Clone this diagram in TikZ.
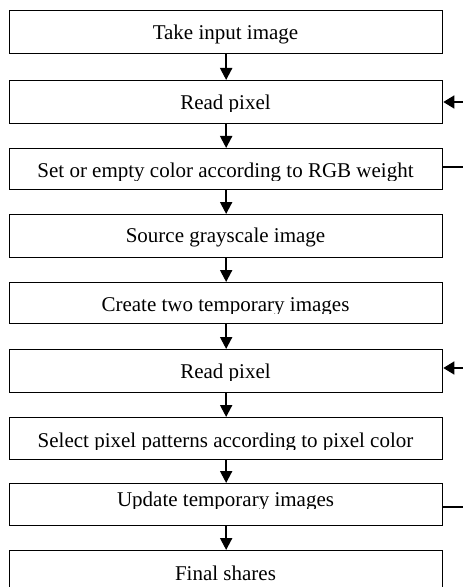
\documentclass[tikz,border=0pt]{standalone}
\usepackage{fontspec}
\setmainfont{Liberation Serif}
\usetikzlibrary{arrows.meta}
\begin{document}
\begin{tikzpicture}[x=1bp,y=-1bp,
  box/.style={draw, line width=1.3bp, rectangle, minimum width=433bp, inner sep=0pt, anchor=north west},
  lbl/.style={font=\fontsize{21bp}{25bp}\selectfont, anchor=base, inner sep=0pt},
  flow/.style={line width=2bp, -{Triangle[length=12bp,width=12bp]}},
  back/.style={line width=1.5bp, -{Triangle[length=11bp,width=13bp]}},
  tail/.style={line width=1.5bp}]
\clip (0,0) rectangle (463,587);
% boxes
\node[box, minimum height=43bp] (b1) at (9,10) {};
\node[box, minimum height=43bp] (b2) at (9,80) {};
\node[box, minimum height=41bp] (b3) at (9,148) {};
\node[box, minimum height=43bp] (b4) at (9,214) {};
\node[box, minimum height=41bp] (b5) at (9,282) {};
\node[box, minimum height=43bp] (b6) at (9,349) {};
\node[box, minimum height=42bp] (b7) at (9,417) {};
\node[box, minimum height=42bp] (b8) at (9,483) {};
\node[box, minimum height=60bp] (b9) at (9,550) {};
% labels
\node[lbl] (t1) at (225.5,40) {Take input image};
\begin{scope}
  \clip (9,80) rectangle (442,112);
  \node[lbl] (t2) at (225.5,110) {Read pixel};
\end{scope}
\begin{scope}
  \clip (9,148) rectangle (442,180);
  \node[lbl] (t3) at (225.5,177) {Set or empty color according to RGB weight};
\end{scope}
\node[lbl] (t4) at (225.5,242) {Source grayscale image};
\begin{scope}
  \clip (9,282) rectangle (442,313);
  \node[lbl] (t5) at (225.5,311) {Create two temporary images};
\end{scope}
\begin{scope}
  \clip (9,349) rectangle (442,380);
  \node[lbl] (t6) at (225.5,378) {Read pixel};
\end{scope}
\begin{scope}
  \clip (9,417) rectangle (442,449);
  \node[lbl] (t7) at (225.5,447) {Select pixel patterns according to pixel color};
\end{scope}
\begin{scope}
  \clip (9,483) rectangle (442,508);
  \node[lbl] (t8) at (225.5,506) {Update temporary images};
\end{scope}
\node[lbl] (t9) at (225.5,580) {Final shares};
% flow arrows
\draw[flow] (b1.south) -- (b2.north);
\draw[flow] (b2.south) -- (b3.north);
\draw[flow] (b3.south) -- (b4.north);
\draw[flow] (b4.south) -- (b5.north);
\draw[flow] (b5.south) -- (b6.north);
\draw[flow] (b6.south) -- (b7.north);
\draw[flow] (b7.south) -- (b8.north);
\draw[flow] (b8.south) -- (b9.north);
% loop ends on the right
\coordinate (r2) at (463,102);
\coordinate (r3) at (463,167);
\coordinate (r6) at (463,368);
\coordinate (r8) at (463,507);
\draw[back] (r2) -- (b2.east |- r2);
\draw[tail] (b3.east |- r3) -- (r3);
\draw[back] (r6) -- (b6.east |- r6);
\draw[tail] (b8.east |- r8) -- (r8);
\end{tikzpicture}
\end{document}
